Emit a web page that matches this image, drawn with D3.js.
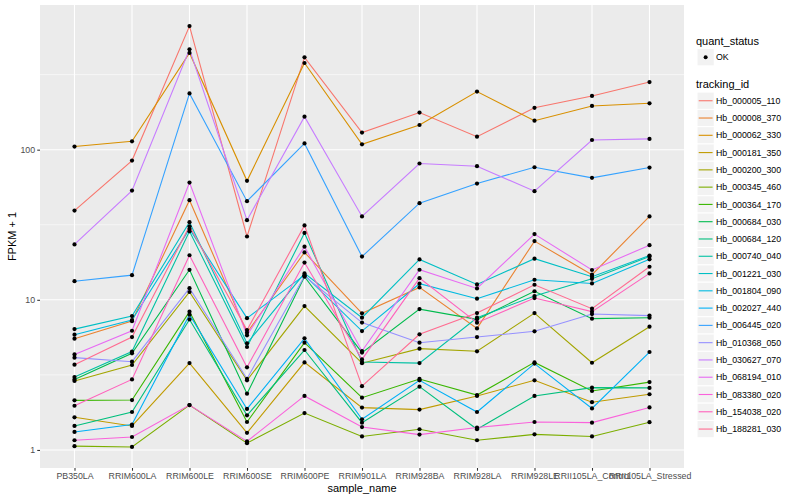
<!DOCTYPE html>
<html><head><meta charset="utf-8">
<script src="https://cdn.jsdelivr.net/npm/d3@7"></script>
<style>
html,body{margin:0;padding:0;background:#fff;}
text{font-family:"Liberation Sans",Arial,Helvetica,sans-serif;}
</style></head>
<body><svg id="chart" width="800" height="500"></svg>
<script>
// ---- data ----
const samples = ["PB350LA","RRIM600LA","RRIM600LE","RRIM600SE","RRIM600PE","RRIM901LA","RRIM928BA","RRIM928LA","RRIM928LE","RRII105LA_Control","RRII105LA_Stressed"];
const trackingIds = ["Hb_000005_110","Hb_000008_370","Hb_000062_330","Hb_000181_350","Hb_000200_300","Hb_000345_460","Hb_000364_170","Hb_000684_030","Hb_000684_120","Hb_000740_040","Hb_001221_030","Hb_001804_090","Hb_002027_440","Hb_006445_020","Hb_010368_050","Hb_030627_070","Hb_068194_010","Hb_083380_020","Hb_154038_020","Hb_188281_030"];
const quantStatus = ["OK"];
const yTickValues = [1, 10, 100];
const yTickLabels = ["1", "10", "100"];

const hb_000005_110 = [39.3, 84.6, 666, 26.4, 412, 130, 176.6, 122, 190, 228, 282];
const hb_000008_370 = [5.51, 7.21, 46.1, 6.04, 20.7, 8.13, 12.1, 6.45, 24.6, 14.7, 35.9];
const hb_000062_330 = [104.9, 113.7, 441, 62, 378, 108.6, 146, 243.6, 156, 195.5, 203.6];
const hb_000181_350 = [1.65, 1.445, 3.79, 1.30, 3.83, 1.915, 1.857, 2.29, 2.91, 2.08, 2.35];
const hb_000200_300 = [2.88, 3.68, 11.27, 2.91, 9.08, 3.78, 4.73, 4.54, 8.16, 3.81, 6.62];
const hb_000345_460 = [1.06, 1.047, 1.99, 1.11, 1.76, 1.23, 1.374, 1.16, 1.27, 1.23, 1.53];
const hb_000364_170 = [2.14, 2.15, 8.34, 1.535, 5.18, 2.23, 2.97, 2.32, 3.83, 2.47, 2.83];
const hb_000684_030 = [2.95, 4.40, 15.85, 2.37, 14.25, 4.45, 8.67, 7.41, 11.4, 7.49, 7.6];
const hb_000684_120 = [1.445, 1.79, 7.4, 1.70, 4.63, 1.52, 2.64, 1.374, 2.29, 2.60, 2.59];
const hb_000740_040 = [3.06, 4.52, 28.6, 4.85, 27.9, 3.85, 3.79, 7.6, 10.6, 13.8, 19.4];
const hb_001221_030 = [6.38, 7.79, 32.9, 5.13, 15.0, 7.6, 18.57, 12.66, 18.8, 14.25, 19.7];
const hb_001804_090 = [5.86, 7.33, 29.7, 7.55, 14.6, 6.19, 12.8, 10.17, 13.6, 12.85, 18.6];
const hb_002027_440 = [1.318, 1.475, 7.96, 1.875, 5.54, 1.60, 2.91, 1.79, 3.76, 1.89, 4.49];
const hb_006445_020 = [13.3, 14.6, 237, 45.4, 110, 19.4, 44, 59.5, 76.4, 64.9, 76];
const hb_010368_050 = [4.12, 3.87, 11.96, 2.98, 14.4, 7.05, 5.18, 5.65, 6.17, 8.04, 7.85];
const hb_030627_070 = [23.4, 53.4, 466, 33.9, 166, 35.9, 80.9, 77.6, 52.9, 116, 118];
const hb_068194_010 = [4.33, 6.22, 60.4, 5.80, 22.6, 4.56, 15.86, 11.9, 27.4, 15.8, 23.1];
const hb_083380_020 = [1.16, 1.22, 1.99, 1.14, 2.29, 1.42, 1.265, 1.41, 1.535, 1.52, 1.92];
const hb_154038_020 = [1.97, 2.95, 19.8, 3.55, 17.7, 4.01, 13.94, 7.04, 10.27, 8.34, 15.0];
const hb_188281_030 = [3.70, 5.65, 30.9, 6.29, 31.3, 2.66, 5.89, 8.16, 12.6, 8.73, 16.6];

const seriesValues = [hb_000005_110, hb_000008_370, hb_000062_330, hb_000181_350, hb_000200_300,
  hb_000345_460, hb_000364_170, hb_000684_030, hb_000684_120, hb_000740_040, hb_001221_030,
  hb_001804_090, hb_002027_440, hb_006445_020, hb_010368_050, hb_030627_070, hb_068194_010,
  hb_083380_020, hb_154038_020, hb_188281_030];

// ggplot2 hue palette (20 levels)
const palette = ["#F8766D","#EA8331","#D89000","#C09B00","#A3A500","#7CAE00","#39B600","#00BB4E","#00BF7D","#00C1A3","#00BFC4","#00BAE0","#00B0F6","#35A2FF","#9590FF","#C77CFF","#E76BF3","#FA62DB","#FF62BC","#FF6C91"];

// ---- layout ----
const svg = d3.select("#chart");
const panel = {left: 40, right: 684, top: 5, bottom: 468};

const series = trackingIds.map((id, i) => ({
  id, color: palette[i],
  points: samples.map((s, j) => ({sample: s, value: seriesValues[i][j]}))
}));

const x = d3.scalePoint().domain(samples).range([panel.left, panel.right]).padding(0.6);

const allVals = seriesValues.flat();
const lmin = Math.log10(d3.min(allVals)), lmax = Math.log10(d3.max(allVals));
const ex = (lmax - lmin) * 0.05;
const y = d3.scaleLog().domain([Math.pow(10, lmin - ex), Math.pow(10, lmax + ex)]).range([panel.bottom, panel.top]);

// panel background
svg.append("rect").attr("x", panel.left).attr("y", panel.top)
  .attr("width", panel.right - panel.left).attr("height", panel.bottom - panel.top)
  .attr("fill", "#EBEBEB");

// minor grid (midpoints in log space)
const minorVals = [Math.sqrt(10), Math.sqrt(1000), Math.sqrt(100000)];
svg.append("g").selectAll("line").data(minorVals).join("line")
  .attr("x1", panel.left).attr("x2", panel.right)
  .attr("y1", d => y(d)).attr("y2", d => y(d))
  .attr("stroke", "#fff").attr("stroke-width", 0.55);
// major grid
svg.append("g").selectAll("line").data(yTickValues).join("line")
  .attr("x1", panel.left).attr("x2", panel.right)
  .attr("y1", d => y(d)).attr("y2", d => y(d))
  .attr("stroke", "#fff").attr("stroke-width", 1.1);
svg.append("g").selectAll("line").data(samples).join("line")
  .attr("x1", d => x(d)).attr("x2", d => x(d))
  .attr("y1", panel.top).attr("y2", panel.bottom)
  .attr("stroke", "#fff").attr("stroke-width", 1.1);

// lines
const line = d3.line().x(d => x(d.sample)).y(d => y(d.value));
svg.append("g").selectAll("path").data(series).join("path")
  .attr("d", d => line(d.points))
  .attr("fill", "none").attr("stroke", d => d.color).attr("stroke-width", 1.1);

// points
svg.append("g").selectAll("g").data(series).join("g")
  .selectAll("circle").data(d => d.points).join("circle")
  .attr("cx", d => x(d.sample)).attr("cy", d => y(d.value)).attr("r", 2.1)
  .attr("fill", "#000");

// axes
const yAxis = d3.axisLeft(y).tickValues(yTickValues).tickFormat((d, i) => yTickLabels[i])
  .tickSize(2.75).tickPadding(2.2);
const gy = svg.append("g").attr("transform", `translate(${panel.left},0)`).call(yAxis);
gy.select(".domain").remove();
gy.selectAll(".tick line").attr("stroke", "#333333").attr("stroke-width", 1.07);
gy.selectAll(".tick text").attr("fill", "#4D4D4D").style("font-size", "8.8px")
  .style("font-family", "'Liberation Sans',Arial,sans-serif");

const xAxis = d3.axisBottom(x).tickSize(2.75).tickPadding(2.2);
const gx = svg.append("g").attr("transform", `translate(0,${panel.bottom})`).call(xAxis);
gx.select(".domain").remove();
gx.selectAll(".tick line").attr("stroke", "#333333").attr("stroke-width", 1.07);
gx.selectAll(".tick text").attr("fill", "#4D4D4D").style("font-size", "8.8px")
  .style("font-family", "'Liberation Sans',Arial,sans-serif");

// axis titles
svg.append("text").attr("x", (panel.left + panel.right) / 2).attr("y", 492)
  .attr("text-anchor", "middle").style("font-size", "11px").attr("fill", "#000")
  .text("sample_name");
svg.append("text").attr("transform", `translate(16,${(panel.top + panel.bottom) / 2}) rotate(-90)`)
  .attr("text-anchor", "middle").style("font-size", "11px").attr("fill", "#000")
  .text("FPKM + 1");

// legend
const lg = svg.append("g");
const keyX = 697, keyW = 17.28;
lg.append("text").attr("x", 696).attr("y", 44.5).style("font-size", "11px").text("quant_status");
lg.append("rect").attr("x", keyX).attr("y", 48.6).attr("width", keyW).attr("height", keyW)
  .attr("fill", "#F2F2F2").attr("stroke", "#fff").attr("stroke-width", 1);
lg.append("circle").attr("cx", keyX + keyW / 2).attr("cy", 48.6 + keyW / 2).attr("r", 2).attr("fill", "#000");
lg.selectAll("text.qs").data(quantStatus).join("text").attr("class", "qs")
  .attr("x", 716).attr("y", 48.6 + keyW / 2 + 3.1).style("font-size", "8.8px").text(d => d);

lg.append("text").attr("x", 696).attr("y", 88).style("font-size", "11px").text("tracking_id");
const top0 = 92.1;
const rows = lg.selectAll("g.row").data(series).join("g").attr("class", "row")
  .attr("transform", (d, i) => `translate(0,${top0 + i * keyW})`);
rows.append("rect").attr("x", keyX).attr("y", 0).attr("width", keyW).attr("height", keyW)
  .attr("fill", "#F2F2F2").attr("stroke", "#fff").attr("stroke-width", 1);
rows.append("line").attr("x1", keyX + 1.7).attr("x2", keyX + keyW - 1.7)
  .attr("y1", keyW / 2).attr("y2", keyW / 2)
  .attr("stroke", d => d.color).attr("stroke-width", 1.1);
rows.append("text").attr("x", 716).attr("y", keyW / 2 + 3.1).style("font-size", "8.8px")
  .text(d => d.id);
</script></body></html>
